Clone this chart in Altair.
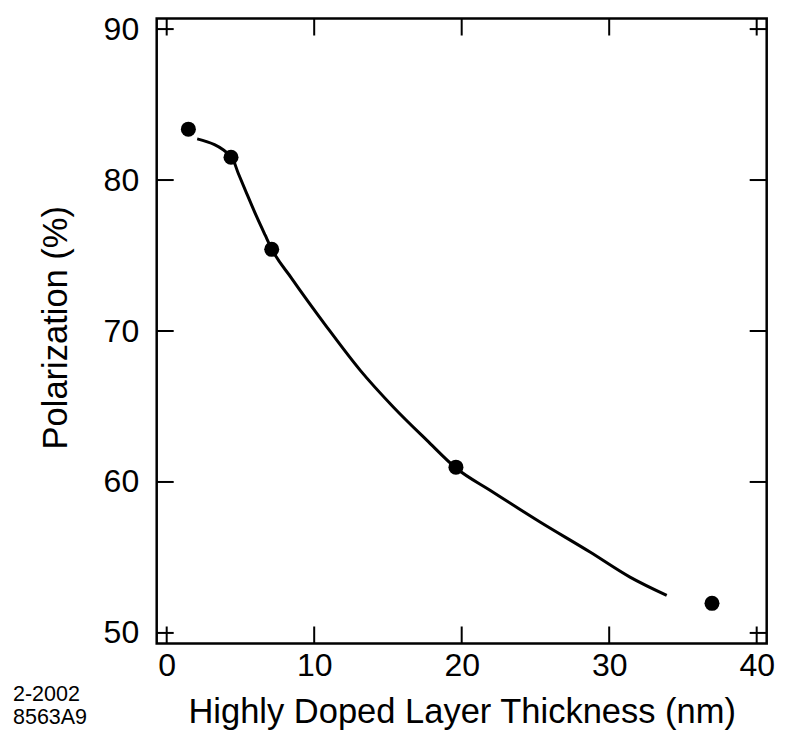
import altair as alt
import pandas as pd

# Measured data points
thickness = [1.47, 4.36, 7.12, 19.61, 36.97]
polarization = [83.37, 81.51, 75.41, 60.98, 51.96]

# Hand-drawn guide curve
curve_x = [2.07, 4.41, 4.85, 5.42, 6.10, 6.67, 7.12, 8.47, 10.85, 13.11, 15.36,
           17.63, 19.63, 21.92, 25.31, 28.70, 31.41, 33.90]
curve_y = [82.73, 81.51, 80.45, 79.12, 77.57, 76.36, 75.43, 73.49, 70.28, 67.41,
           64.97, 62.77, 60.91, 59.45, 57.35, 55.36, 53.70, 52.49]

x_ticks = [0, 10, 20, 30, 40]
y_ticks = [50, 60, 70, 80, 90]
note_lines = ["2-2002", "8563A9"]

W, H = 610, 625
TICK = 17
FONT = "Liberation Sans"

xs = alt.Scale(domain=[-0.678, 40.678], nice=False, zero=False)
ys = alt.Scale(domain=[49.30, 90.70], nice=False, zero=False)

pts_df = pd.DataFrame({"x": thickness, "y": polarization})
curve_df = pd.DataFrame({"x": curve_x, "y": curve_y})
xt_df = pd.DataFrame({"x": x_ticks})
yt_df = pd.DataFrame({"y": y_ticks})

points = alt.Chart(pts_df).mark_circle(size=225, color="black", opacity=1).encode(
    x=alt.X("x:Q", scale=xs,
            axis=alt.Axis(values=x_ticks, title="Highly Doped Layer Thickness (nm)",
                          ticks=False, tickSize=0, domain=False, grid=False,
                          labelPadding=7, labelFontSize=32, labelFont=FONT,
                          labelColor="black", titleFontSize=34.5, titleFont=FONT,
                          titleFontWeight="normal", titleColor="black",
                          titleX=W / 2, titleY=79.4, titleBaseline="alphabetic",
                          titleAnchor="middle")),
    y=alt.Y("y:Q", scale=ys,
            axis=alt.Axis(values=y_ticks, title="Polarization (%)",
                          ticks=False, tickSize=0, domain=False, grid=False,
                          labelPadding=18, labelFontSize=32, labelFont=FONT,
                          labelColor="black", titleFontSize=34.5, titleFont=FONT,
                          titleFontWeight="normal", titleColor="black",
                          titleX=-89.7, titleY=308.7, titleBaseline="alphabetic",
                          titleAngle=-90)),
)

curve = alt.Chart(curve_df).mark_line(color="black", strokeWidth=3,
                                      interpolate="monotone").encode(
    x=alt.X("x:Q", scale=xs), y=alt.Y("y:Q", scale=ys))

tick_style = dict(color="black", strokeWidth=2)
bottom_ticks = alt.Chart(xt_df).mark_rule(**tick_style).encode(
    x=alt.X("x:Q", scale=xs), y=alt.value(H), y2=alt.value(H - TICK))
top_ticks = alt.Chart(xt_df).mark_rule(**tick_style).encode(
    x=alt.X("x:Q", scale=xs), y=alt.value(0), y2=alt.value(TICK))
left_ticks = alt.Chart(yt_df).mark_rule(**tick_style).encode(
    y=alt.Y("y:Q", scale=ys), x=alt.value(0), x2=alt.value(TICK))
right_ticks = alt.Chart(yt_df).mark_rule(**tick_style).encode(
    y=alt.Y("y:Q", scale=ys), x=alt.value(W), x2=alt.value(W - TICK))

note1 = alt.Chart(pd.DataFrame({"t": [note_lines[0]]})).mark_text(
    align="left", baseline="alphabetic", fontSize=21.5, font=FONT, color="black"
).encode(text="t:N", x=alt.value(-143.7), y=alt.value(682.5))
note2 = alt.Chart(pd.DataFrame({"t": [note_lines[1]]})).mark_text(
    align="left", baseline="alphabetic", fontSize=21.5, font=FONT, color="black"
).encode(text="t:N", x=alt.value(-143.7), y=alt.value(705.5))

chart = alt.layer(points, curve, bottom_ticks, top_ticks, left_ticks, right_ticks,
                  note1, note2).properties(
    width=W, height=H,
    autosize=alt.AutoSizeParams(type="none"),
    padding={"left": 148.7, "top": 10.5, "right": 10, "bottom": 89},
    background="white",
).configure_view(stroke="black", strokeWidth=2.5)

chart.save("out.html", embed_options={"renderer": "svg", "actions": False})
